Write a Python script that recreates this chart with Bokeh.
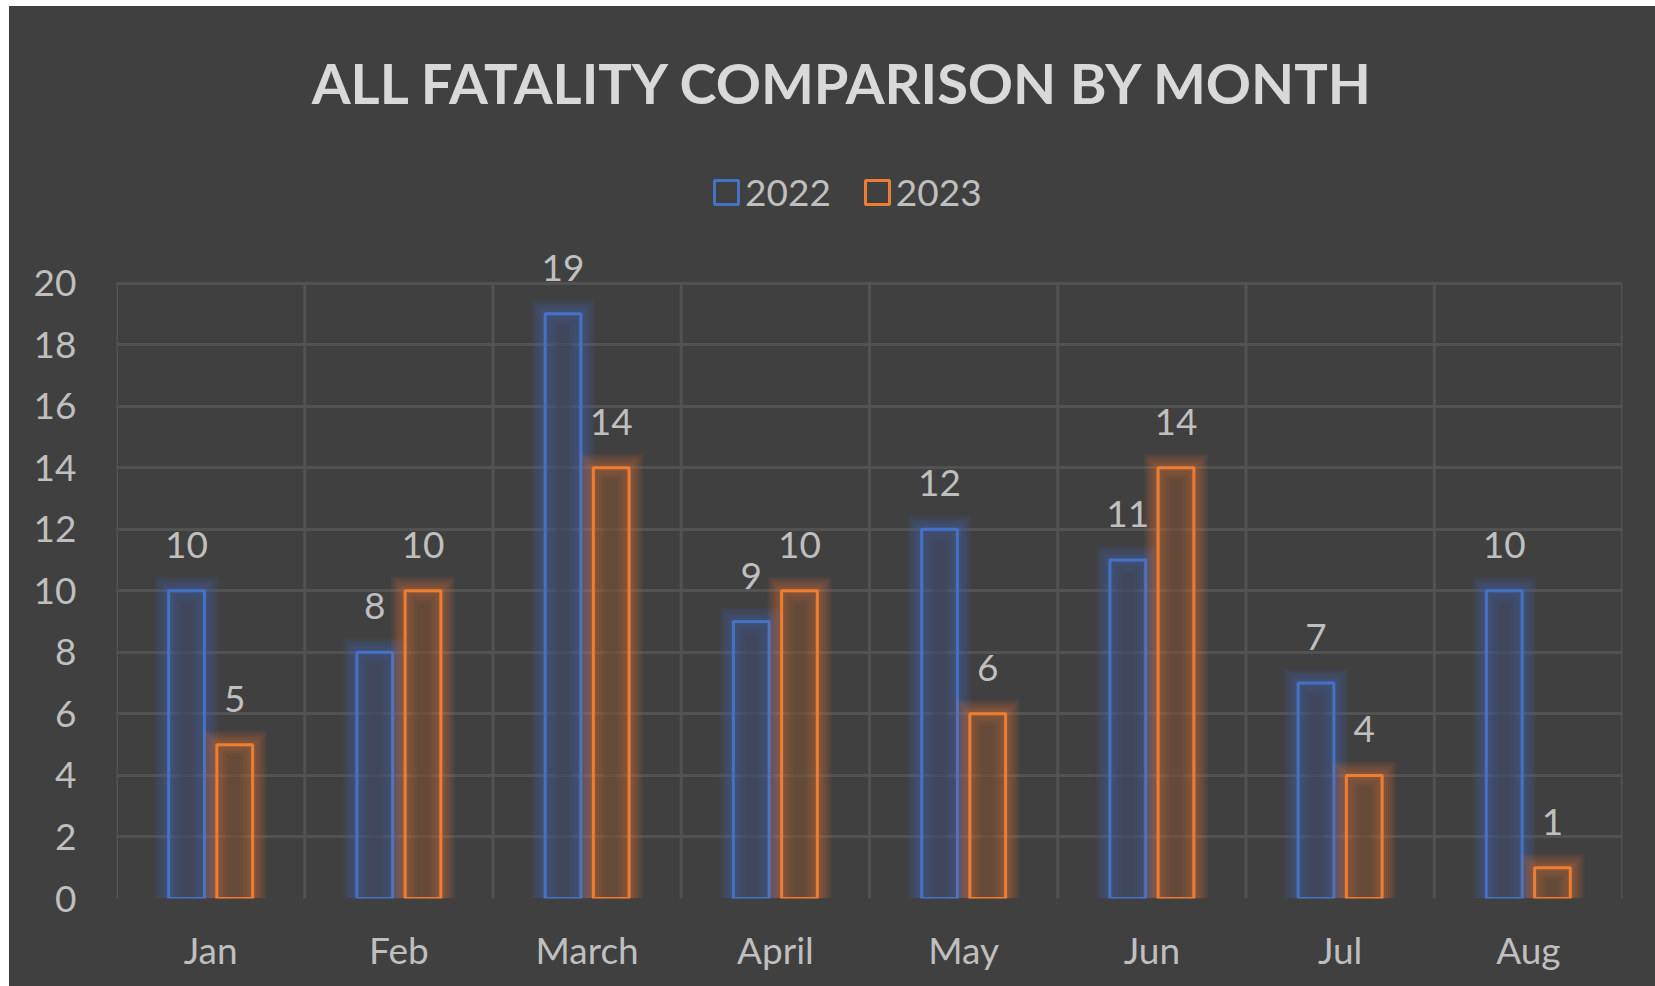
from bokeh.plotting import figure
from bokeh.models import (FactorRange, Range1d, ColumnDataSource, LabelSet, Legend,
                          LegendItem, Label, FixedTicker)
from bokeh.core.properties import value
from bokeh.transform import dodge
from bokeh.embed import file_html
from bokeh.resources import INLINE

# ---- data ----
months = ["Jan", "Feb", "March", "April", "May", "Jun", "Jul", "Aug"]
series_names = ["2022", "2023"]
values_2022 = [10, 8, 19, 9, 12, 11, 7, 10]
values_2023 = [5, 10, 14, 10, 6, 14, 4, 1]
y_ticks = [0, 2, 4, 6, 8, 10, 12, 14, 16, 18, 20]
title_text = "ALL FATALITY COMPARISON BY MONTH"

# ---- style / layout ----
BG = "#404040"
GRID = "#525252"
LABEL = "#bfbfbf"
FONT = "Lato"
COLORS = ["#4472C4", "#ED7D31"]
W, H = 1646, 980
ML, MR, MB = 107, 33, 88
PLOT_H = 615.5                      # pixel height of the 0..20 value band
frame_w = W - ML - MR
frame_h = H - MB                    # frame reaches top of the figure
ppu = PLOT_H / (y_ticks[-1] - y_ticks[0])
px_x = len(months) / frame_w
px_y = 1.0 / ppu
bar_w = 0.19
offsets = [-0.128, 0.128]

p = figure(x_range=FactorRange(factors=months, range_padding=0, factor_padding=0),
           y_range=Range1d(y_ticks[0], y_ticks[0] + frame_h / ppu),
           width=W, height=H, title=None, output_backend="svg", toolbar_location=None,
           min_border_left=ML, min_border_right=MR, min_border_top=0, min_border_bottom=MB,
           background_fill_color=BG, border_fill_color=None, outline_line_color=None)
p.margin = (6, 0, 0, 9)
p.styles = {"background-color": BG}

# grid
p.xgrid.visible = False
p.ygrid.ticker = FixedTicker(ticks=y_ticks)
p.ygrid.grid_line_color = GRID
p.ygrid.grid_line_width = 3
bx = [(m, -0.5) for m in months] + [(months[-1], 0.5)]
p.segment(x0=bx, y0=[y_ticks[0]] * len(bx), x1=bx, y1=[y_ticks[-1]] * len(bx),
          line_color=GRID, line_width=3, level="underlay")

main_renderers = []
NG = 7
for vals, color, off in zip([values_2022, values_2023], COLORS, offsets):
    data = dict(month=months, value=vals, label=[str(v) for v in vals])
    for k in range(1, NG + 1):
        data[f"glow{k}"] = [v + 2.0 * k * px_y for v in vals]
    for k in range(1, 5):
        data[f"inner{k}"] = [max(v - 3.0 * k * px_y, 0) for v in vals]
    src = ColumnDataSource(data)
    xs = dodge("month", off, range=p.x_range)
    for k in range(NG, 0, -1):
        p.vbar(x=xs, top=f"glow{k}", bottom=0, width=bar_w + 2 * 2.0 * k * px_x,
               fill_color=color, fill_alpha=0.075, line_color=None, source=src)
    for k in range(1, 5):
        p.vbar(x=xs, top=f"inner{k}", bottom=0, width=bar_w - 2 * 3.0 * k * px_x,
               fill_color=BG, fill_alpha=0.14, line_color=None, source=src)
    r = p.vbar(x=xs, top="value", bottom=0, width=bar_w, fill_alpha=0,
               line_color=color, line_width=3, source=src)
    main_renderers.append(r)
    p.add_layout(LabelSet(x=xs, y="value", text="label", source=src, y_offset=33,
                          text_align="center", text_baseline="alphabetic",
                          text_font=value(FONT), text_font_size=value("37px"),
                          text_color=LABEL))

# axes
for ax in (p.xaxis[0], p.yaxis[0]):
    ax.axis_line_color = None
    ax.major_tick_line_color = None
    ax.minor_tick_line_color = None
    ax.major_tick_out = 0
    ax.major_tick_in = 0
    ax.minor_tick_out = 0
    ax.major_label_text_font = FONT
    ax.major_label_text_font_size = "37px"
    ax.major_label_text_color = LABEL
p.yaxis.ticker = FixedTicker(ticks=y_ticks)
p.yaxis.major_label_standoff = 40
p.xaxis.major_label_standoff = 28

# legend
legend = Legend(items=[LegendItem(label=n, renderers=[r]) for n, r in zip(series_names, main_renderers)],
                orientation="horizontal", location=(595, 684),
                glyph_width=30, glyph_height=30, label_standoff=4, spacing=31,
                padding=0, margin=0, border_line_alpha=0, background_fill_alpha=0,
                label_text_font=FONT, label_text_font_size="37px", label_text_color=LABEL)
p.add_layout(legend)

# title
p.add_layout(Label(x=728, y=816, x_units="screen", y_units="screen", text=title_text,
                   text_align="center", text_baseline="alphabetic", text_font=FONT,
                   text_font_style="bold", text_font_size="56px", text_color="#d9d9d9"))

open("out.html", "w").write(file_html(p, INLINE))
